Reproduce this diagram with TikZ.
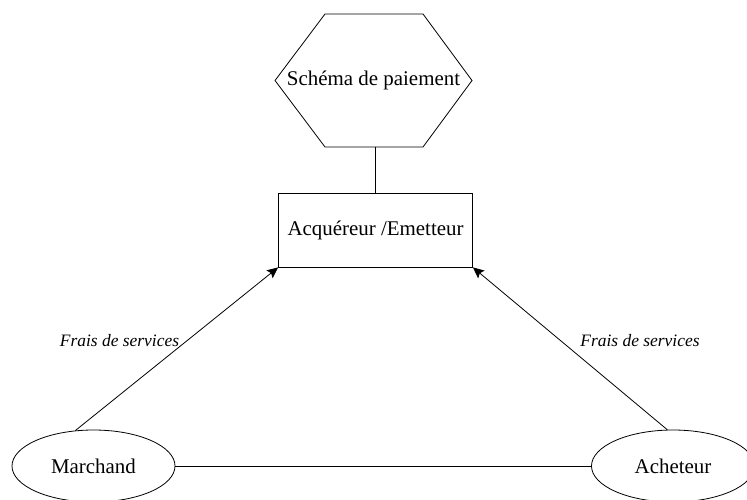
\documentclass[tikz,border=0pt]{standalone}
\usepackage{fontspec}
\setmainfont{Liberation Serif}
\usetikzlibrary{arrows.meta,shapes.geometric}
\begin{document}
\begin{tikzpicture}[x=1bp,y=-1bp,
  line width=0.8bp,
  lbl/.style={font=\fontsize{21}{25}\selectfont, inner sep=0pt},
  fee/.style={font=\fontsize{17.5}{21}\selectfont\itshape, inner sep=0pt},
  party/.style={draw, ellipse, minimum width=163bp, minimum height=72bp, inner sep=0pt,
    font=\fontsize{21}{25}\selectfont},
  box/.style={draw, rectangle, minimum width=194bp, minimum height=74bp, inner sep=0pt,
    font=\fontsize{21}{25}\selectfont},
  flow/.style={-{Stealth[length=11bp,width=10bp,inset=2bp]}}]
  \useasboundingbox (0,0) rectangle (747,500);

  % payment scheme hexagon
  \coordinate (h1) at (325,14);
  \coordinate (h2) at (423,14);
  \coordinate (h3) at (472,80.5);
  \coordinate (h4) at (423,147);
  \coordinate (h5) at (325,147);
  \coordinate (h6) at (275,80.5);
  \draw (h1) -- (h2) -- (h3) -- (h4) -- (h5) -- (h6) -- cycle;
  \node[lbl] (scheme) at (373.5,80.5) {Schéma de paiement};
  \coordinate (hbot) at (375,147);

  % acquirer / issuer
  \node[box] (acq) at (375.5,230) {Acquéreur /Emetteur};

  % parties
  \node[party] (merchant) at (93.5,466) {Marchand};
  \node[party] (buyer) at (673,466) {Acheteur};

  % connectors
  \draw (hbot) -- (hbot |- acq.north);
  \draw[flow] (merchant.117) -- (acq.south west);
  \draw[flow] (buyer.99) -- (acq.south east);
  \draw (merchant) -- (buyer);

  % fee labels
  \node[fee] (feeL) at (119.5,341) {Frais de services};
  \node[fee] (feeR) at (640,341) {Frais de services};
\end{tikzpicture}
\end{document}
